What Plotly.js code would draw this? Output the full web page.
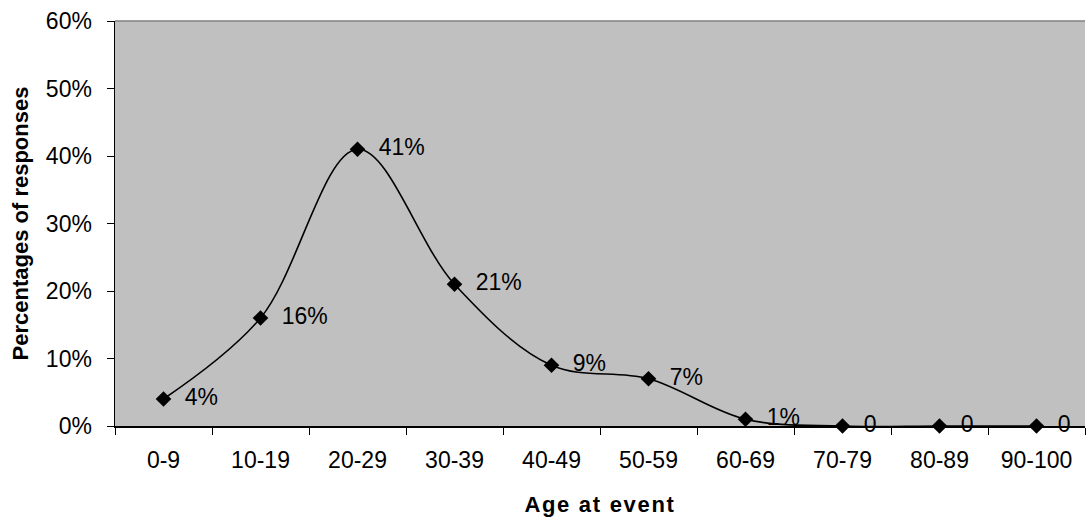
<!DOCTYPE html>
<html>
<head>
<meta charset="utf-8">
<script src="https://cdn.plot.ly/plotly-3.0.1.min.js"></script>
<style>html,body{margin:0;padding:0;background:#fff;}#chart{width:1086px;height:519px;}
.xtitle{letter-spacing:1.7px;}</style>
</head>
<body>
<div id="chart"></div>
<script>
const categories = ["0-9","10-19","20-29","30-39","40-49","50-59","60-69","70-79","80-89","90-100"];
const values = [0.04, 0.16, 0.41, 0.21, 0.09, 0.07, 0.01, 0, 0, 0];
const labels = ["4%","16%","41%","21%","9%","7%","1%","0","0","0"];
const yTickVals = [0, 0.1, 0.2, 0.3, 0.4, 0.5, 0.6];
const yTickText = ["0%","10%","20%","30%","40%","50%","60%"];

const FONT = '"Liberation Sans", Arial, sans-serif';
const FS = 23;
const TFS = 22;

const trace = {
  type: 'scatter',
  mode: 'lines+markers+text',
  x: categories,
  y: values,
  text: labels,
  texttemplate: '\u00A0\u00A0%{text}',
  textposition: 'middle right',
  textfont: {family: FONT, size: FS, color: '#000'},
  line: {color: '#000', width: 1.6, shape: 'spline', smoothing: 1},
  marker: {symbol: 'diamond', size: 12, color: '#000'},
  cliponaxis: false,
  hoverinfo: 'skip'
};

const layout = {
  width: 1086, height: 519,
  margin: {l: 115, r: 1, t: 21, b: 93},
  paper_bgcolor: '#ffffff',
  plot_bgcolor: '#c0c0c0',
  showlegend: false,
  font: {family: FONT, size: FS, color: '#000'},
  xaxis: {
    type: 'category',
    categoryorder: 'array',
    categoryarray: categories,
    range: [-0.5, categories.length - 0.5],
    tickson: 'boundaries',
    ticks: 'outside', ticklen: 7, tickcolor: '#000', tickwidth: 1,
    ticklabelstandoff: 13,
    showline: true, linecolor: '#000', linewidth: 1.5,
    showgrid: false, zeroline: false,
    tickfont: {family: FONT, size: FS, color: '#000'},
    title: {text: '<b>Age at event</b>', font: {family: FONT, size: TFS, color: '#000'}, standoff: 24}
  },
  xaxis2: {
    overlaying: 'x', anchor: 'y', side: 'bottom',
    type: 'linear',
    range: [-0.5, categories.length - 0.5],
    tickvals: categories.map((c, i) => i - 0.5),
    ticks: 'inside', ticklen: 7, tickcolor: '#000', tickwidth: 1,
    showticklabels: false, showline: false, showgrid: false, zeroline: false
  },
  yaxis: {
    range: [0, 0.6],
    tickvals: yTickVals, ticktext: yTickText,
    ticks: 'outside', ticklen: 7, tickcolor: '#000', tickwidth: 1,
    ticklabelstandoff: 10,
    showline: true, linecolor: '#000', linewidth: 1.5,
    showgrid: false, zeroline: false,
    tickfont: {family: FONT, size: FS, color: '#000'},
    title: {text: '<b>Percentages of responses</b>', font: {family: FONT, size: TFS, color: '#000'}, standoff: 11}
  },
  shapes: [{
    type: 'line', xref: 'paper', yref: 'paper', x0: 0, x1: 1, y0: 1, y1: 1,
    line: {color: '#808080', width: 1.5}
  }]
};

Plotly.newPlot('chart', [trace], layout, {displayModeBar: false, staticPlot: true});
</script>
</body>
</html>
